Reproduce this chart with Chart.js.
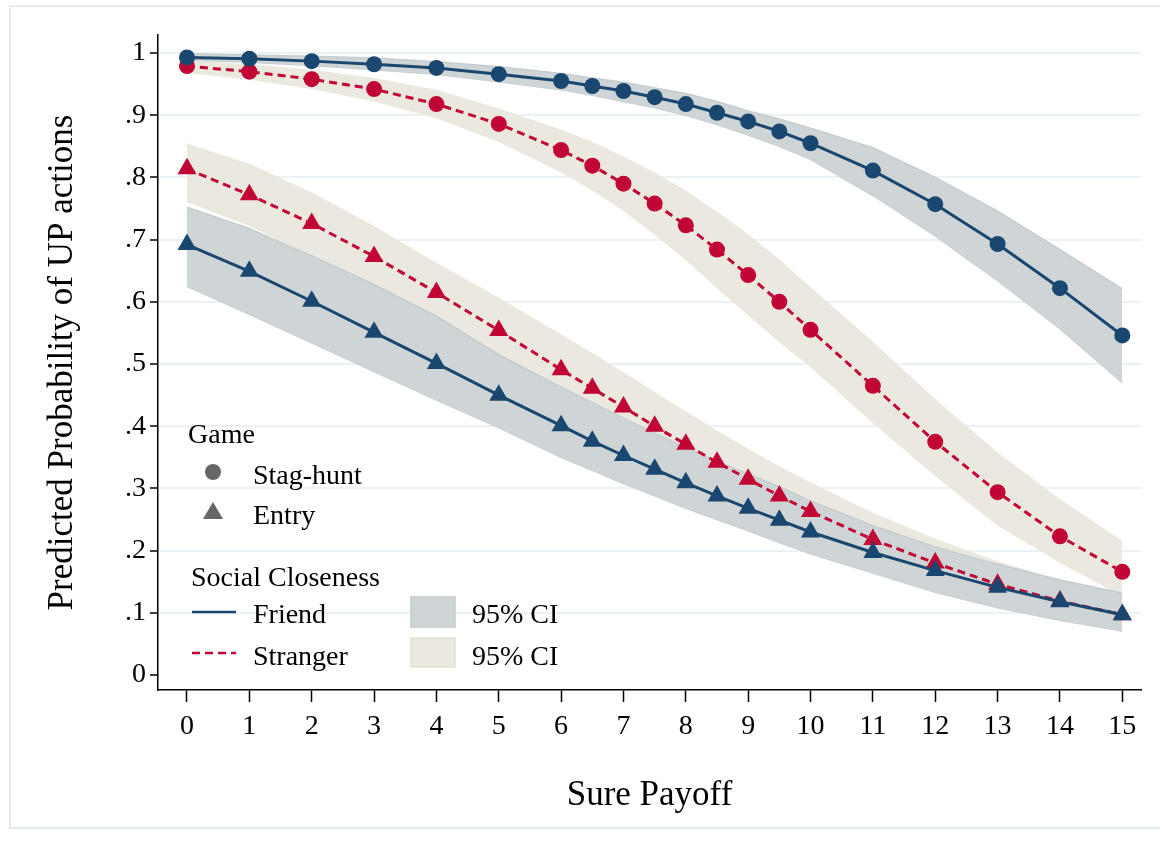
<!DOCTYPE html>
<html>
<head>
<meta charset="utf-8">
<script src="https://cdn.jsdelivr.net/npm/chart.js@4"></script>
<style>
  body { margin: 0; background: #fff; }
  #wrap { width: 1160px; height: 843px; position: relative; }
</style>
</head>
<body>
<div id="wrap"><canvas id="probChart"></canvas></div>
<script>
// Sure payoff values (x)
const payoff = [0, 1, 2, 3, 4, 5, 6, 6.5, 7, 7.5, 8, 8.5, 9, 9.5, 10, 11, 12, 13, 14, 15];

// Friend / Stag-hunt
const friendStag   = [0.993, 0.991, 0.987, 0.982, 0.976, 0.966, 0.955, 0.947, 0.939, 0.929, 0.918, 0.904, 0.890, 0.874, 0.855, 0.811, 0.757, 0.693, 0.622, 0.546];
const friendStagHi = [0.999, 0.997, 0.995, 0.992, 0.986, 0.978, 0.967, 0.960, 0.953, 0.944, 0.935, 0.922, 0.907, 0.894, 0.879, 0.848, 0.800, 0.746, 0.684, 0.621];
const friendStagLo = [0.989, 0.985, 0.980, 0.973, 0.966, 0.954, 0.941, 0.932, 0.922, 0.912, 0.900, 0.885, 0.868, 0.850, 0.829, 0.771, 0.706, 0.634, 0.557, 0.470];

// Friend / Entry
const friendEntry   = [0.692, 0.649, 0.601, 0.551, 0.501, 0.450, 0.401, 0.376, 0.353, 0.331, 0.309, 0.288, 0.268, 0.249, 0.230, 0.197, 0.168, 0.141, 0.118, 0.097];
const friendEntryHi = [0.752, 0.718, 0.674, 0.628, 0.577, 0.515, 0.463, 0.438, 0.413, 0.389, 0.366, 0.344, 0.323, 0.303, 0.280, 0.240, 0.206, 0.178, 0.153, 0.132];
const friendEntryLo = [0.625, 0.580, 0.534, 0.488, 0.442, 0.398, 0.350, 0.329, 0.308, 0.288, 0.268, 0.250, 0.232, 0.213, 0.195, 0.164, 0.133, 0.108, 0.088, 0.071];

// Stranger / Stag-hunt
const strangerStag   = [0.979, 0.970, 0.958, 0.942, 0.918, 0.886, 0.844, 0.819, 0.790, 0.758, 0.723, 0.684, 0.643, 0.600, 0.555, 0.465, 0.375, 0.294, 0.223, 0.166];
const strangerStagHi = [0.988, 0.982, 0.973, 0.960, 0.941, 0.911, 0.877, 0.857, 0.834, 0.808, 0.779, 0.745, 0.709, 0.668, 0.624, 0.536, 0.444, 0.358, 0.283, 0.216];
const strangerStagLo = [0.968, 0.957, 0.942, 0.922, 0.895, 0.857, 0.808, 0.779, 0.746, 0.708, 0.667, 0.622, 0.578, 0.535, 0.495, 0.405, 0.320, 0.240, 0.180, 0.127];

// Stranger / Entry
const strangerEntry   = [0.814, 0.772, 0.726, 0.673, 0.615, 0.554, 0.491, 0.461, 0.431, 0.400, 0.371, 0.342, 0.315, 0.288, 0.263, 0.218, 0.180, 0.146, 0.119, 0.097];
const strangerEntryHi = [0.855, 0.822, 0.776, 0.722, 0.663, 0.607, 0.548, 0.518, 0.487, 0.455, 0.424, 0.393, 0.364, 0.336, 0.310, 0.261, 0.219, 0.183, 0.153, 0.128];
const strangerEntryLo = [0.760, 0.722, 0.674, 0.622, 0.565, 0.500, 0.434, 0.401, 0.372, 0.345, 0.320, 0.294, 0.268, 0.244, 0.220, 0.179, 0.146, 0.116, 0.092, 0.072];

const yTicks = ['0', '.1', '.2', '.3', '.4', '.5', '.6', '.7', '.8', '.9', '1'];

const NAVY = '#1a476f';
const RED = '#c10534';
const GRAY_CI = '#cfd5d6';
const BEIGE_CI = '#ebe8e0';
const FONT = "'Liberation Serif', 'Times New Roman', serif";

const pts = arr => payoff.map((x, i) => ({ x: x, y: arr[i] }));

function lineSet(label, arr, color, style, dashed) {
  return {
    label: label,
    data: pts(arr),
    borderColor: color,
    backgroundColor: color,
    borderWidth: 3,
    borderDash: dashed ? [8, 5] : [],
    pointStyle: style,
    pointRadius: style === 'triangle' ? 11 : 8,
    pointBackgroundColor: color,
    pointBorderWidth: 0,
    tension: 0,
    fill: false
  };
}

function bandSet(arr, color, edge, upper) {
  return {
    label: 'CI',
    data: pts(arr),
    borderColor: edge,
    borderWidth: edge ? 1.5 : 0,
    backgroundColor: color,
    pointRadius: 0,
    tension: 0,
    fill: upper ? '+1' : false
  };
}

// legend + outer frame
const stataLegend = {
  id: 'stataLegend',
  beforeDraw(chart) {
    const ctx = chart.ctx;
    ctx.save();
    ctx.strokeStyle = '#e4ecf0';
    ctx.lineWidth = 2;
    ctx.strokeRect(10, 6, 1180, 822);
    ctx.restore();
  },
  afterDraw(chart) {
    const ctx = chart.ctx;
    ctx.save();
    ctx.font = '28px ' + FONT;
    ctx.fillStyle = '#000';
    ctx.textBaseline = 'alphabetic';
    ctx.textAlign = 'left';
    ctx.fillText('Game', 188, 443);
    ctx.fillText('Stag-hunt', 253, 484);
    ctx.fillText('Entry', 253, 524);
    ctx.fillText('Social Closeness', 191, 586);
    ctx.fillText('Friend', 253, 623);
    ctx.fillText('Stranger', 253, 665);
    ctx.fillText('95% CI', 472, 623);
    ctx.fillText('95% CI', 472, 665);

    ctx.fillStyle = '#666';
    ctx.beginPath();
    ctx.arc(213, 472, 8, 0, Math.PI * 2);
    ctx.fill();
    ctx.beginPath();
    ctx.moveTo(213, 502);
    ctx.lineTo(223, 519);
    ctx.lineTo(203, 519);
    ctx.closePath();
    ctx.fill();

    ctx.lineWidth = 2.5;
    ctx.strokeStyle = NAVY;
    ctx.beginPath();
    ctx.moveTo(192, 612);
    ctx.lineTo(236, 612);
    ctx.stroke();
    ctx.strokeStyle = RED;
    ctx.setLineDash([8, 5]);
    ctx.beginPath();
    ctx.moveTo(192, 653);
    ctx.lineTo(236, 653);
    ctx.stroke();
    ctx.setLineDash([]);

    ctx.lineWidth = 1.5;
    ctx.fillStyle = GRAY_CI;
    ctx.strokeStyle = '#c4cbcd';
    ctx.fillRect(411, 597, 44, 30);
    ctx.strokeRect(411, 597, 44, 30);
    ctx.fillStyle = BEIGE_CI;
    ctx.strokeStyle = '#e3dfd2';
    ctx.fillRect(411, 638, 44, 29);
    ctx.strokeRect(411, 638, 44, 29);
    ctx.restore();
  }
};

new Chart(document.getElementById('probChart'), {
  type: 'line',
  data: {
    datasets: [
      lineSet('Friend Stag-hunt', friendStag, NAVY, 'circle', false),
      lineSet('Friend Entry', friendEntry, NAVY, 'triangle', false),
      lineSet('Stranger Stag-hunt', strangerStag, RED, 'circle', true),
      lineSet('Stranger Entry', strangerEntry, RED, 'triangle', true),
      bandSet(friendStagHi, GRAY_CI, '#c6cdcf', true),
      bandSet(friendStagLo, GRAY_CI, '#c6cdcf', false),
      bandSet(friendEntryHi, GRAY_CI, '#c6cdcf', true),
      bandSet(friendEntryLo, GRAY_CI, '#c6cdcf', false),
      bandSet(strangerStagHi, BEIGE_CI, null, true),
      bandSet(strangerStagLo, BEIGE_CI, null, false),
      bandSet(strangerEntryHi, BEIGE_CI, null, true),
      bandSet(strangerEntryLo, BEIGE_CI, null, false)
    ]
  },
  options: {
    responsive: true,
    maintainAspectRatio: false,
    animation: false,
    layout: { padding: { left: 0, right: 19, top: 35, bottom: 0 } },
    plugins: {
      legend: { display: false },
      tooltip: { enabled: false }
    },
    scales: {
      x: {
        type: 'linear',
        min: -0.465,
        max: 15.3,
        afterFit: s => { s.height = 153; },
        border: { display: true, color: '#000', width: 1.5 },
        grid: {
          drawOnChartArea: false,
          drawTicks: true,
          tickLength: 12,
          tickColor: '#000',
          tickWidth: 1.5
        },
        ticks: {
          stepSize: 1,
          includeBounds: false,
          autoSkip: false,
          maxRotation: 0,
          padding: 8,
          color: '#000',
          font: { family: FONT, size: 28 }
        },
        title: {
          display: true,
          text: 'Sure Payoff',
          color: '#000',
          font: { family: FONT, size: 35 },
          padding: { top: 0, bottom: 26 }
        }
      },
      y: {
        type: 'linear',
        min: -0.024,
        max: 1.029,
        afterFit: s => { s.width = 158; },
        border: { display: true, color: '#000', width: 1.5 },
        grid: {
          color: c => (c.tick && Math.round(c.tick.value * 10) === 0) ? 'rgba(0,0,0,0)' : '#eaf2f4',
          lineWidth: 2,
          drawTicks: true,
          tickLength: 8,
          tickColor: '#000',
          tickWidth: 1.5
        },
        ticks: {
          stepSize: 0.1,
          includeBounds: false,
          autoSkip: false,
          padding: 4,
          color: '#000',
          font: { family: FONT, size: 28 },
          callback: v => yTicks[Math.round(v * 10)]
        },
        title: {
          display: true,
          text: 'Predicted Probability of UP actions',
          color: '#000',
          font: { family: FONT, size: 35 },
          padding: { top: 42, bottom: 0 }
        }
      }
    }
  },
  plugins: [stataLegend]
});
</script>
</body>
</html>
